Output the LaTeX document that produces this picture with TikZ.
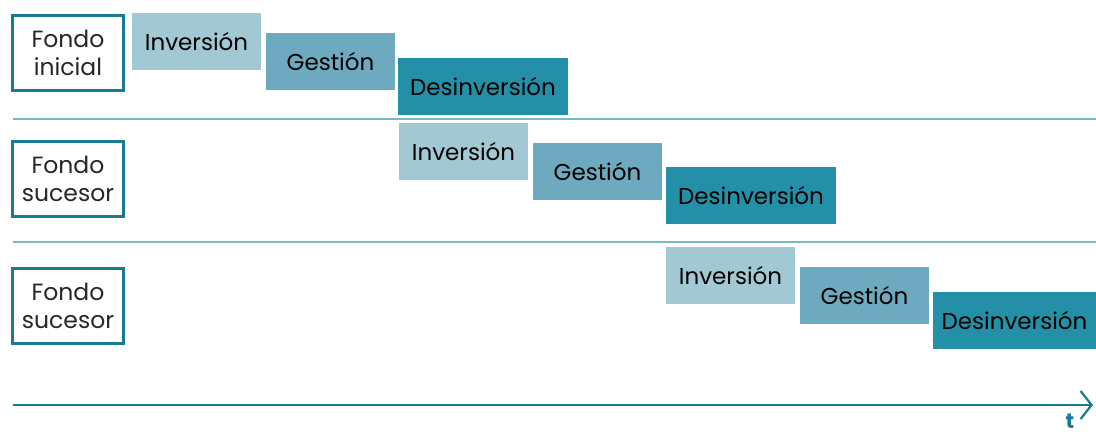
\documentclass[tikz,border=0pt]{standalone}
\usepackage{fontspec}
\setmainfont{Poppins}
\usepackage{tikz}
\usetikzlibrary{arrows.meta}
\definecolor{tealdark}{HTML}{1A7A94}
\definecolor{tealline}{HTML}{7AB8C6}
\definecolor{invcol}{HTML}{A2C9D3}
\definecolor{gescol}{HTML}{6EAABF}
\definecolor{descol}{HTML}{2490A8}
\begin{document}
\begin{tikzpicture}[x=1pt,y=-1pt,
  fondo/.style={draw=tealdark,line width=3pt,minimum width=111pt,minimum height=75pt,
    align=center,font=\fontsize{23.5}{28}\selectfont,text=black!85,inner sep=0pt},
  fase/.style={minimum height=57pt,inner sep=0pt,font=\fontsize{23}{26}\selectfont,text=black},
  inv/.style={fase,fill=invcol,minimum width=129pt},
  ges/.style={fase,fill=gescol,minimum width=129pt},
  des/.style={fase,fill=descol,minimum width=170pt},
  sep/.style={draw=tealline,line width=1.5pt}]
\useasboundingbox (0,0) rectangle (1096,435);
% fondos
\node[fondo] (f1) at (68,53) {Fondo\\inicial};
\node[fondo] (f2) at (68,179) {Fondo\\sucesor};
\node[fondo] (f3) at (68,306) {Fondo\\sucesor};
% separadores
\draw[sep] (13,119) -- (1096,119);
\draw[sep] (13,242) -- (1096,242);
% fila 1
\node[inv] (i1) at (196.5,41.5) {Inversión};
\node[ges] (g1) at (330.5,62) {Gestión};
\node[des] (d1) at (483,86.5) {Desinversión};
% fila 2
\node[inv] (i2) at (463.5,151.5) {Inversión};
\node[ges] (g2) at (597.5,172) {Gestión};
\node[des] (d2) at (751,196) {Desinversión};
% fila 3
\node[inv] (i3) at (730.5,275.5) {Inversión};
\node[ges] (g3) at (864.5,296) {Gestión};
\node[des,minimum width=163pt] (d3) at (1014.5,320.5) {Desinversión};
% eje
\coordinate (t0) at (13,405);
\coordinate (t1) at (1093,405);
\draw[tealdark,line width=2.2pt,-{Straight Barb[length=11pt,width=28pt,line width=2.2pt]}] (t0) -- (t1);
\node[tealdark,font=\bfseries\fontsize{21}{24}\selectfont,anchor=base,inner sep=0pt] (t) at (1070,429) {t};
\end{tikzpicture}
\end{document}
